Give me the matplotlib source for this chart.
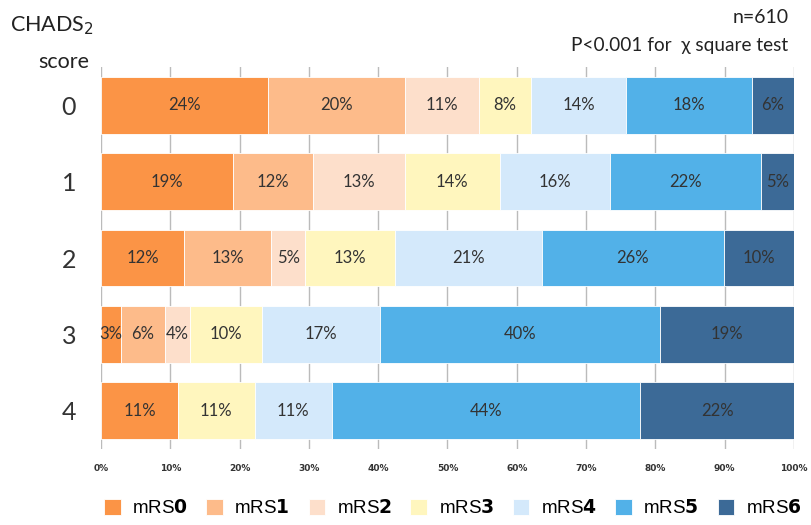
import numpy as np
import matplotlib.pyplot as plt

# CHADS2 score groups and mRS distribution (%)
scores = ['0', '1', '2', '3', '4']
mrs_labels = ['0', '1', '2', '3', '4', '5', '6']
mrs0 = [24.1, 19.0, 12.0, 2.9, 11.1]
mrs1 = [19.8, 11.6, 12.6, 6.3, 0.0]
mrs2 = [10.6, 13.2, 4.9, 3.7, 0.0]
mrs3 = [7.6, 13.8, 12.9, 10.3, 11.1]
mrs4 = [13.6, 15.8, 21.2, 17.1, 11.1]
mrs5 = [18.2, 21.8, 26.3, 40.4, 44.5]
mrs6 = [6.1, 4.8, 10.1, 19.3, 22.2]
series = [mrs0, mrs1, mrs2, mrs3, mrs4, mrs5, mrs6]

colors = ['#FB9446', '#FDBB8A', '#FDDFCB', '#FFF6BE', '#D4E9FB', '#52B1E8', '#3C6A97']

fig = plt.figure(figsize=(8.11, 5.25), dpi=100)
ax = fig.add_axes([0.1245, 0.145, 0.8545, 0.727])

y = np.arange(len(scores))
left = np.zeros(len(scores))
for i, vals in enumerate(series):
    vals = np.array(vals, dtype=float)
    bars = ax.barh(y, vals, left=left, height=0.74, color=colors[i],
                   edgecolor='white', linewidth=0.6, zorder=2,
                   label=f'mRS$\\mathbf{{{mrs_labels[i]}}}$')
    for b, v in zip(bars, vals):
        if v > 0:
            ax.text(b.get_x() + b.get_width() / 2, b.get_y() + b.get_height() / 2,
                    f'{v:.0f}%', ha='center', va='center', fontsize=12,
                    color='#333333', family='Lato', zorder=3, clip_on=False)
    left += vals

ax.set_xlim(0, 100)
ax.set_ylim(4.5, -0.5)
ax.set_xticks(np.arange(0, 101, 10))
ax.set_xticklabels([f'{t}%' for t in range(0, 101, 10)], fontsize=6.5,
                   fontweight='bold', color='#333333')
ax.set_yticks(y)
ax.set_yticklabels(scores, fontsize=18, color='#333333', family='Lato')
ax.tick_params(axis='y', length=0, pad=18)
ax.tick_params(axis='x', length=0, pad=11)
ax.grid(axis='x', color='#BBBBBB', linewidth=1, zorder=0)
for s in ax.spines.values():
    s.set_visible(False)

fig.text(0.012, 0.952, 'CHADS$_2$', fontsize=15.5, family='Lato', color='#222222',
         ha='left', va='center')
fig.text(0.047, 0.882, 'score', fontsize=15.5, family='Lato', color='#222222',
         ha='left', va='center')
fig.text(0.972, 0.966, 'n=610', fontsize=14, family='Lato', color='#222222',
         ha='right', va='center')
fig.text(0.972, 0.914, 'P<0.001 for  χ square test', fontsize=13.7, family='Lato',
         color='#222222', ha='right', va='center')

leg = fig.legend(loc='center', bbox_to_anchor=(0.558, 0.032), ncol=7, frameon=False,
                 handlelength=0.9, handleheight=0.9, handletextpad=0.6,
                 columnspacing=1.0, prop={'family': 'Liberation Sans', 'size': 13.5})

plt.savefig('out.png', dpi=100)
